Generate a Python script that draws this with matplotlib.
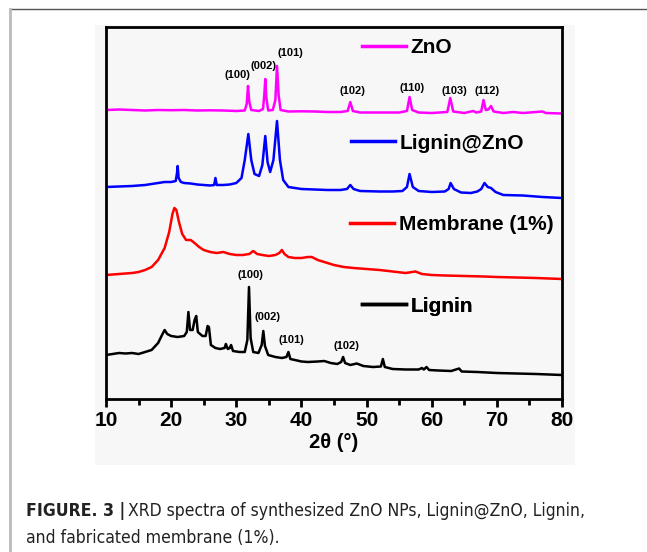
import matplotlib
matplotlib.use("Agg")
import matplotlib.pyplot as plt
from matplotlib.lines import Line2D
from matplotlib.patches import Rectangle

# ---------------- data (2theta in degrees, intensity in arbitrary offset units) -------------
zno_x = [10, 12, 14, 16, 18, 20, 22, 24, 26, 28, 30, 31.3, 31.6, 31.8, 32.0, 32.3, 33.5, 34.1, 34.3,
         34.45, 34.6, 34.9, 35.6, 36.0, 36.25, 36.5, 36.8, 38, 40, 42, 44, 46, 47.1, 47.5, 47.9, 49,
         52, 55, 56.2, 56.6, 57.0, 58, 60, 62.4, 62.85, 63.3, 65, 66.4, 66.8, 67.6, 67.95, 68.3, 68.7,
         69.1, 69.5, 71, 72.5, 74, 77, 77.5, 80]
zno_y = [290, 290.5, 290, 289.5, 290, 289.8, 290, 289.5, 289.7, 289.5, 289, 289.5, 296, 314, 298, 290,
         289, 291, 305, 321, 303, 289.5, 290, 300, 334, 305, 290, 288.5, 288.7, 288.5, 288, 288, 289,
         298, 289, 287.5, 287.5, 287.5, 289, 303, 290, 287.5, 287, 288, 302, 288.5, 287, 289, 287.5,
         288.5, 300, 290, 290.5, 294, 288.5, 287, 288, 287, 288.5, 287, 286.5]

lz_x = [10, 12, 14, 16, 17, 18, 19, 20, 20.7, 20.9, 21.0, 21.15, 21.5, 22, 23, 24, 25, 26, 26.6, 26.8,
        27.0, 28, 29, 30, 30.8, 31.3, 31.85, 32.3, 32.8, 33.5, 34.0, 34.45, 34.8, 35.2, 35.7, 36.25,
        36.7, 37.2, 38, 40, 42, 44, 46, 47.0, 47.5, 48.0, 49, 52, 54, 55.5, 56.2, 56.6, 57.1, 58, 60,
        62, 62.6, 62.9, 63.4, 64.5, 66, 67, 67.6, 68.1, 68.6, 69.1, 69.8, 71, 74, 77, 80]
lz_y = [213, 213.5, 214, 215, 216, 217, 218, 218, 219, 227, 234, 222, 218, 217, 216.5, 215.5, 215, 214.5,
        215, 222, 215, 215, 215.5, 217, 222, 240, 266, 240, 226, 224, 235, 264, 238, 228, 240, 279,
        240, 220, 213, 211, 210.5, 210, 210, 211, 215, 211, 209, 208.5, 208.5, 209, 213, 226, 213, 209,
        208, 208.5, 211, 217, 211, 207.5, 207, 208.5, 211, 217, 213, 212, 208, 205, 204.5, 203, 202]

mem_x = [10, 12, 14, 15, 16, 17, 18, 19, 19.7, 20.2, 20.5, 20.8, 21.2, 21.7, 22.3, 23, 23.6, 24.3, 25,
         26, 27, 28, 29, 30, 31, 32, 32.6, 33.2, 34, 35, 36, 36.6, 37.0, 37.4, 38, 39, 40, 41, 41.6,
         42.5, 43.5, 45, 46.5, 48, 50, 52, 54, 56, 57.5, 58.5, 60, 62, 65, 68, 70, 73, 76, 80]
mem_y = [125, 126, 127, 128, 130, 133, 140, 152, 168, 186, 192, 190, 178, 166, 160, 160, 157, 153, 150,
         148, 147, 148, 146, 145, 145, 146, 149, 146, 145, 144, 145, 147, 150, 146, 143, 142, 142, 143,
         143, 140, 138, 135, 133, 132, 131, 130, 128.5, 127, 128.5, 126, 125, 124.5, 124, 123.5, 123,
         122.5, 122, 121]

lig_x = [10, 11, 12, 13, 14, 15, 16, 17, 18, 18.6, 19.0, 19.4, 20, 21, 22, 22.4, 22.65, 22.9, 23.3, 23.6,
         23.85, 24.1, 24.8, 25.3, 25.6, 25.8, 26.1, 26.8, 27.5, 28.2, 28.4, 28.7, 29.0, 29.2, 29.5, 30.5,
         31.3, 31.7, 31.95, 32.2, 32.6, 33.4, 33.9, 34.15, 34.4, 34.9, 36, 37, 37.7, 38.0, 38.3, 39, 40,
         41, 42.5, 43.5, 44.5, 45.5, 46.1, 46.4, 46.7, 47.5, 48.5, 49.5, 51, 52.2, 52.5, 52.8, 54, 56,
         58, 58.5, 58.8, 59.2, 59.6, 61, 63, 64.2, 64.6, 67, 70, 73, 76, 80]
lig_y = [45, 46, 47, 46.5, 47, 46, 48, 50, 57, 65, 70, 66, 64, 63, 64, 68, 88, 70, 70, 80,
         84, 68, 64, 64, 74, 73, 55, 52, 51, 52, 56, 51, 52, 55, 49, 48,
         48, 60, 113, 62, 48, 47, 55, 69, 54, 45, 43, 42, 43, 48, 41, 40, 38.5,
         38, 38.5, 39, 37, 36, 38, 43, 37, 35, 36.5, 34, 33, 33.5, 41, 33, 31, 30.5,
         30.5, 32, 30.5, 33, 30, 29.5, 29, 31.5, 28.5, 28, 27, 26.5, 26, 25]

series_names = ["ZnO", "Lignin@ZnO", "Membrane (1%)", "Lignin"]
series_colors = ["#ff00ff", "#0000ff", "#ff0000", "#000000"]

zno_labels = ["(100)", "(002)", "(101)", "(102)", "(110)", "(103)", "(112)"]
zno_label_x = [30.2, 34.2, 38.3, 47.8, 57.0, 63.5, 68.5]
zno_label_y = [325, 334, 347, 309, 312, 309, 309]

lig_labels = ["(100)", "(002)", "(101)", "(102)"]
lig_label_x = [32.1, 34.8, 38.5, 46.9]
lig_label_y = [125, 83, 60, 54]

xticks = [10, 20, 30, 40, 50, 60, 70, 80]

caption_bold = "FIGURE. 3 |"
caption_line1 = "XRD spectra of synthesized ZnO NPs, Lignin@ZnO, Lignin,"
caption_line2 = "and fabricated membrane (1%)."

# ---------------- figure ----------------
W, H = 647, 552
fig = plt.figure(figsize=(W / 100, H / 100), dpi=100)
fig.patch.set_facecolor("white")

# page decorations: light panel, top rule, left rule
fig.add_artist(Rectangle((95 / W, 1 - 465 / H), (575 - 95) / W, (465 - 25) / H,
                         transform=fig.transFigure, facecolor="#f7f7f7", edgecolor="none", zorder=0))
fig.add_artist(Line2D([10 / W, 1], [1 - 9 / H, 1 - 9 / H], transform=fig.transFigure,
                      color="#555555", lw=1.0))
fig.add_artist(Line2D([10 / W, 10 / W], [0, 1 - 9 / H], transform=fig.transFigure,
                      color="#bbbbbb", lw=2.0))

ax = fig.add_axes([106 / W, 1 - 399 / H, (562 - 106) / W, (399 - 27) / H])
ax.set_facecolor("#f7f7f7")

data = [(zno_x, zno_y), (lz_x, lz_y), (mem_x, mem_y), (lig_x, lig_y)]
for (xs, ys), c in zip(data, series_colors):
    ax.plot(xs, ys, color=c, lw=1.8, solid_joinstyle="round")

ax.set_xlim(10, 80)
ax.set_ylim(1, 373)
ax.set_yticks([])
ax.set_xticks(xticks)
ax.set_xticks(range(15, 80, 10), minor=True)
ax.tick_params(axis="x", which="major", direction="out", length=6, width=2, pad=3)
ax.tick_params(axis="x", which="minor", direction="out", length=4, width=2)
for lab in ax.get_xticklabels():
    lab.set_fontfamily("Liberation Sans")
    lab.set_fontweight("bold")
    lab.set_fontsize(15)
for sp in ax.spines.values():
    sp.set_linewidth(2)
ax.set_xlabel("2θ (°)", fontsize=14.5, fontweight="bold", family="Liberation Sans", labelpad=2)

# per-series legends
leg_pos = [(0.561, 0.945), (0.537, 0.688), (0.535, 0.468), (0.561, 0.250)]
for name, c, pos in zip(series_names, series_colors, leg_pos):
    h = Line2D([], [], color=c, lw=2.5)
    lg = ax.legend([h], [name], loc="center left", bbox_to_anchor=pos, frameon=False,
                   borderpad=0, borderaxespad=0, handlelength=2.1, handletextpad=0.25,
                   prop={"family": "Liberation Sans", "weight": "bold", "size": 15})
    ax.add_artist(lg)

for t, x, y in zip(zno_labels, zno_label_x, zno_label_y):
    ax.text(x, y, t, ha="center", va="center", fontsize=8, fontweight="bold", family="Liberation Sans")
for t, x, y in zip(lig_labels, lig_label_x, lig_label_y):
    ax.text(x, y, t, ha="center", va="center", fontsize=8, fontweight="bold", family="Liberation Sans")

# caption (condensed sans, scaled so line 1 spans the same width as the reference)
cap_kw = dict(family="DejaVu Sans", fontstretch="condensed", color="#222222", va="baseline", ha="left")
fs = 12.0
t1 = fig.text(26 / W, 1 - 516 / H, caption_bold, fontsize=fs, fontweight="bold", **cap_kw)
t2 = fig.text(0, 1 - 516 / H, caption_line1, fontsize=fs, **cap_kw)
t3 = fig.text(26 / W, 1 - 543 / H, caption_line2, fontsize=fs, **cap_kw)
for _ in range(2):
    fig.canvas.draw()
    r = fig.canvas.get_renderer()
    bb1 = t1.get_window_extent(r)
    t2.set_x((bb1.x1 + 3) / W)
    fig.canvas.draw()
    bb2 = t2.get_window_extent(r)
    total = bb2.x1 - bb1.x0
    fs = fs * (557 / total)
    for t in (t1, t2, t3):
        t.set_fontsize(fs)
fig.canvas.draw()
bb1 = t1.get_window_extent(fig.canvas.get_renderer())
t2.set_x((bb1.x1 + 3) / W)

fig.savefig("out.png", dpi=100, facecolor="white")
